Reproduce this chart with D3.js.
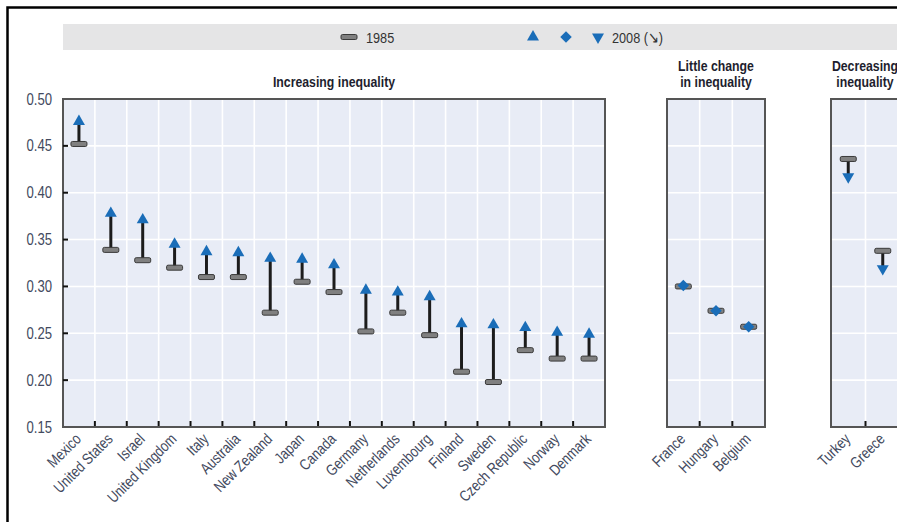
<!DOCTYPE html>
<html><head><meta charset="utf-8">
<script src="https://cdn.jsdelivr.net/npm/d3@7"></script>
<style>
body{margin:0;background:#fff}
svg{display:block}
text{font-family:"Liberation Sans",Arial,sans-serif}
</style></head>
<body><svg id="c" width="897" height="522"></svg>
<script>
// ---- data ----
const groupTitles = [["Increasing inequality"], ["Little change", "in inequality"], ["Decreasing", "inequality"]];
const countriesIncreasing = ["Mexico","United States","Israel","United Kingdom","Italy","Australia","New Zealand","Japan","Canada","Germany","Netherlands","Luxembourg","Finland","Sweden","Czech Republic","Norway","Denmark"];
const gini1985Increasing = [0.452,0.339,0.328,0.320,0.310,0.310,0.272,0.305,0.294,0.252,0.272,0.248,0.209,0.198,0.232,0.223,0.223];
const gini2008Increasing = [0.476,0.378,0.371,0.345,0.337,0.336,0.330,0.329,0.323,0.296,0.294,0.289,0.260,0.259,0.256,0.251,0.249];
const countriesLittle = ["France","Hungary","Belgium"];
const gini1985Little = [0.300,0.274,0.257];
const gini2008Little = [0.301,0.274,0.257];
const countriesDecreasing = ["Turkey","Greece"];
const gini1985Decreasing = [0.436,0.338];
const gini2008Decreasing = [0.417,0.319];
const yTicks = [0.15,0.20,0.25,0.30,0.35,0.40,0.45,0.50];
const legendLabels = ["1985", "2008 (\u2198)"];

// ---- layout ----
const svg = d3.select("#c");
const BLUE = "#1a6db8";
const LABEL = "#434a5e";
const SX = 0.82; // horizontal condensing to mimic a narrow typeface
const y = d3.scaleLinear().domain([0.15, 0.50]).range([427, 99]);

function narrowText(parent, x, yy, txt, opt) {
  const tf = `translate(${x},${yy})` + (opt.rotate ? ` rotate(${opt.rotate})` : "") + ` scale(${SX},1)`;
  return parent.append("text").attr("transform", tf)
    .attr("text-anchor", opt.anchor || "start")
    .attr("font-size", opt.size || 15)
    .attr("font-weight", opt.weight || "normal")
    .attr("fill", opt.fill || LABEL)
    .text(txt);
}

const panels = [
  {title: groupTitles[0], cats: countriesIncreasing, v85: gini1985Increasing, v08: gini2008Increasing, x0: 63, x1: 605, kind: "up", ticks: true, titleY: [87]},
  {title: groupTitles[1], cats: countriesLittle, v85: gini1985Little, v08: gini2008Little, x0: 667, x1: 765, kind: "same", ticks: false, titleY: [71, 87]},
  {title: groupTitles[2], cats: countriesDecreasing, v85: gini1985Decreasing, v08: gini2008Decreasing, x0: 831, x1: 900, kind: "down", ticks: false, titleY: [71, 87], center: 865}
];

// outer frame
svg.append("path").attr("d", "M7.5,522 V7.5 H897").attr("fill", "none").attr("stroke", "#000").attr("stroke-width", 2.5);

// legend band
svg.append("rect").attr("x", 63).attr("y", 24).attr("width", 840).attr("height", 26).attr("fill", "#e5e5e6");
const lg = svg.append("g");
lg.append("rect").attr("x", 341).attr("y", 34.5).attr("width", 16).attr("height", 5).attr("rx", 1.5)
  .attr("fill", "#808080").attr("stroke", "#3a3a3a").attr("stroke-width", 1);
narrowText(lg, 366, 42.5, legendLabels[0], {size: 15.5, fill: "#333"});
const triUp = d3.symbol(d3.symbolTriangle).size(62)();
const diamond = d3.symbol(d3.symbolSquare).size(66)();
lg.append("path").attr("d", triUp).attr("transform", "translate(533,37)").attr("fill", BLUE);
lg.append("path").attr("d", diamond).attr("transform", "translate(566,37) rotate(45)").attr("fill", BLUE);
lg.append("path").attr("d", triUp).attr("transform", "translate(598,37) rotate(180)").attr("fill", BLUE);
narrowText(lg, 612, 42.5, legendLabels[1], {size: 15.5, fill: "#333"});

panels.forEach(p => {
  const x = d3.scaleBand().domain(p.cats).range([p.x0, p.x1]);
  const g = svg.append("g");
  // background
  g.append("rect").attr("x", p.x0).attr("y", y(0.50)).attr("width", p.x1 - p.x0).attr("height", y(0.15) - y(0.50))
    .attr("fill", "#e8ecf6");
  // grid
  g.selectAll(".hg").data(yTicks.slice(1, -1)).join("line")
    .attr("x1", p.x0).attr("x2", p.x1).attr("y1", d => y(d)).attr("y2", d => y(d))
    .attr("stroke", "#fff").attr("stroke-width", 1.6);
  const bounds = p.cats.slice(1).map(c => x(c));
  g.selectAll(".vg").data(bounds).join("line")
    .attr("x1", d => d).attr("x2", d => d).attr("y1", y(0.50)).attr("y2", y(0.15))
    .attr("stroke", "#fff").attr("stroke-width", 1.6);
  // bottom ticks
  g.selectAll(".xt").data(bounds).join("line")
    .attr("x1", d => d).attr("x2", d => d).attr("y1", y(0.15) - 6).attr("y2", y(0.15))
    .attr("stroke", "#111").attr("stroke-width", 2);
  // border
  g.append("rect").attr("x", p.x0).attr("y", y(0.50)).attr("width", p.x1 - p.x0).attr("height", y(0.15) - y(0.50))
    .attr("fill", "none").attr("stroke", "#555").attr("stroke-width", 2);

  if (p.ticks) {
    const axis = d3.axisLeft(y).tickValues(yTicks).tickFormat(d3.format(".2f")).tickSize(0).tickPadding(11);
    const ag = svg.append("g").attr("transform", `translate(${p.x0},0)`).call(axis);
    ag.select(".domain").remove();
    ag.selectAll("text").attr("font-size", 16).attr("fill", LABEL).attr("font-family", null)
      .attr("x", -11 / SX).attr("transform", `scale(${SX},1)`);
    g.selectAll(".yt").data(yTicks.slice(1, -1)).join("line")
      .attr("x1", p.x0).attr("x2", p.x0 + 5).attr("y1", d => y(d)).attr("y2", d => y(d))
      .attr("stroke", "#111").attr("stroke-width", 2);
  }

  // title
  const cx = p.center || (p.x0 + p.x1) / 2;
  p.title.forEach((t, i) => {
    narrowText(svg, cx, p.titleY[i], t, {anchor: "middle", size: 15, weight: "bold", fill: "#1e1e2e"});
  });

  // x labels
  p.cats.forEach(c => {
    const lx = x(c) + x.bandwidth() / 2 + 3, ly = y(0.15) + 13;
    narrowText(svg, lx, ly, c, {anchor: "end", size: 15.5, rotate: -45});
  });

  // marks
  p.cats.forEach((c, i) => {
    const cxm = x(c) + x.bandwidth() / 2;
    const a = p.v85[i], b = p.v08[i];
    if (p.kind !== "same") {
      g.append("line").attr("x1", cxm).attr("x2", cxm).attr("y1", y(a)).attr("y2", y(b))
        .attr("stroke", "#1c1c1c").attr("stroke-width", 3);
    }
    g.append("rect").attr("x", cxm - 8).attr("y", y(a) - 2.5).attr("width", 16).attr("height", 5).attr("rx", 1.5)
      .attr("fill", "#808080").attr("stroke", "#3a3a3a").attr("stroke-width", 1);
    if (p.kind === "up") {
      g.append("path").attr("d", triUp).attr("transform", `translate(${cxm},${y(b)})`).attr("fill", BLUE);
    } else if (p.kind === "down") {
      g.append("path").attr("d", triUp).attr("transform", `translate(${cxm},${y(b)}) rotate(180)`).attr("fill", BLUE);
    } else {
      g.append("path").attr("d", diamond).attr("transform", `translate(${cxm},${y(b)}) rotate(45)`).attr("fill", BLUE);
    }
  });
});
</script></body></html>
